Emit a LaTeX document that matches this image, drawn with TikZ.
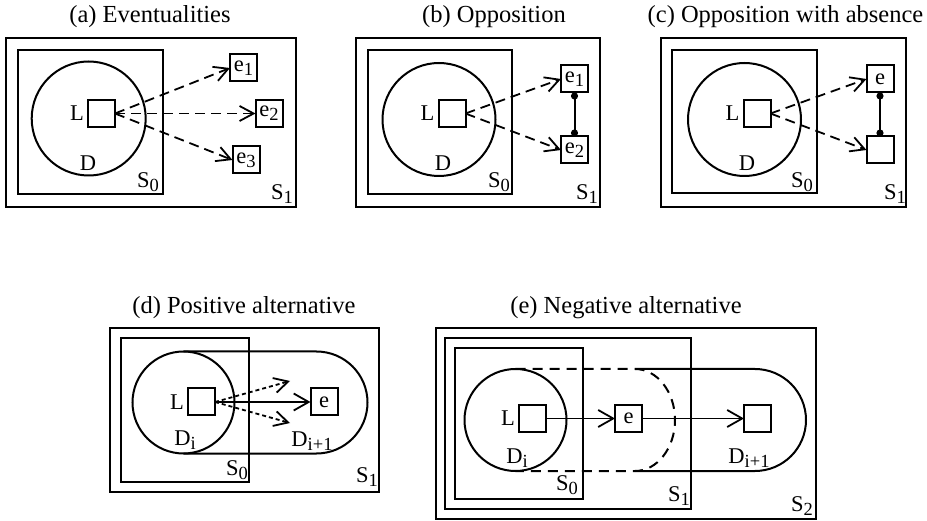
\documentclass[tikz,border=0pt]{standalone}
\usepackage{fontspec}
\setmainfont{Liberation Serif}
\usetikzlibrary{arrows.meta,positioning}
\newcommand\ttlfont{\fontsize{24.5}{28}\selectfont}
\newcommand\lblfont{\fontsize{22.5}{26}\selectfont}
\newcommand\subtxt[1]{\raisebox{-0.35ex}{\fontsize{18.5}{20}\selectfont #1}}

\begin{document}
\begin{tikzpicture}[
  x=1pt, y=-1pt,
  ttl/.style={font=\ttlfont, inner sep=0pt},
  lbl/.style={font=\lblfont, inner sep=0pt},
  frame/.style={draw, line width=2pt, inner sep=0pt, outer sep=0pt},
  dom/.style={draw, circle, line width=2pt, inner sep=0pt, outer sep=0pt},
  domline/.style={line width=2pt},
  domdash/.style={line width=2pt, dash pattern=on 10pt off 7pt},
  item/.style={draw, line width=2pt, minimum size=27pt, inner sep=0pt,
               outer sep=0pt, font=\lblfont},
  darr/.style={-{Straight Barb[length=14pt,width=15pt]}, line width=1.8pt,
               dash pattern=on 10pt off 6pt},
  dotarr/.style={-{Straight Barb[length=14pt,width=15pt]}, line width=1.8pt,
                 dash pattern=on 4pt off 3pt},
  sarr/.style={-{Straight Barb[length=15pt,width=17pt]}, line width=1.8pt},
  link/.style={{Circle[length=7pt]}-{Circle[length=7pt]}, line width=2pt},
]
\useasboundingbox (0,0) rectangle (927,521);

% (a) Eventualities
\node[ttl] (a-title) at (150,17) {(a) Eventualities};
\node[frame, minimum width=290pt, minimum height=169pt] (a-s1) at (151,122.5) {};
\node[frame, minimum width=145pt, minimum height=144pt] (a-s0) at (90.5,122) {};
\node[dom, minimum size=114pt] (a-d) at (88.7,118.5) {};
\node[item] (a-l) at (101.5,113.5) {};
\node[lbl, left=4pt of a-l] (a-l-lbl) {L};
\node[lbl] (a-d-lbl) at (88,163) {D};
\node[lbl] (a-s0-lbl) at (148,182) {S\subtxt{0}};
\node[lbl] (a-s1-lbl) at (282,194) {S\subtxt{1}};
\node[item] (a-e1) at (243.5,68) {e\subtxt{1}};
\node[item] (a-e2) at (269,113.5) {e\subtxt{2}};
\node[item] (a-e3) at (246,160) {e\subtxt{3}};
\draw[darr] (a-l.east) -- (a-e1.west);
\draw[darr] (a-l.east) -- (a-e2.west);
\draw[darr] (a-l.east) -- (a-e3.west);

% (b) Opposition
\node[ttl] (b-title) at (494,17) {(b) Opposition};
\node[frame, minimum width=244pt, minimum height=169pt] (b-s1) at (478,122.5) {};
\node[frame, minimum width=144pt, minimum height=144pt] (b-s0) at (440,122) {};
\node[dom, minimum size=113pt] (b-d) at (439,119.5) {};
\node[item] (b-l) at (452,113.5) {};
\node[lbl, left=4pt of b-l] (b-l-lbl) {L};
\node[lbl] (b-d-lbl) at (443,163) {D};
\node[lbl] (b-s0-lbl) at (499,182) {S\subtxt{0}};
\node[lbl] (b-s1-lbl) at (587,194) {S\subtxt{1}};
\node[item] (b-e1) at (574.5,79) {e\subtxt{1}};
\node[item] (b-e2) at (574.5,150) {e\subtxt{2}};
\draw[darr] (b-l.east) -- (b-e1.west);
\draw[darr] (b-l.east) -- (b-e2.west);
\draw[link] (b-e1) -- (b-e2);

% (c) Opposition with absence
\node[ttl] (c-title) at (785.5,17) {(c) Opposition with absence};
\node[frame, minimum width=245pt, minimum height=169pt] (c-s1) at (783.5,122.5) {};
\node[frame, minimum width=145pt, minimum height=143pt] (c-s0) at (744.5,121.5) {};
\node[dom, minimum size=113pt] (c-d) at (744.5,119.5) {};
\node[item] (c-l) at (757,113.5) {};
\node[lbl, left=4pt of c-l] (c-l-lbl) {L};
\node[lbl] (c-d-lbl) at (747,163) {D};
\node[lbl] (c-s0-lbl) at (802,182) {S\subtxt{0}};
\node[lbl] (c-s1-lbl) at (895,194) {S\subtxt{1}};
\node[item] (c-e) at (880,79) {e};
\node[item] (c-x) at (880,150) {};
\draw[darr] (c-l.east) -- (c-e.west);
\draw[darr] (c-l.east) -- (c-x.west);
\draw[link] (c-e) -- (c-x);

% (d) Positive alternative
\node[ttl] (d-title) at (244,308) {(d) Positive alternative};
\node[frame, minimum width=269pt, minimum height=164pt] (d-s1) at (244.5,410) {};
\node[frame, minimum width=128pt, minimum height=144pt] (d-s0) at (185,410) {};
\node[dom, minimum size=102pt] (d-d) at (183.5,402.5) {};
\draw[domline] (d-d.north) -- ++(133,0)
  arc[start angle=-90, end angle=90, radius=51] -- (d-d.south);
\node[item] (d-l) at (201.5,402) {};
\node[lbl, left=4pt of d-l] (d-l-lbl) {L};
\node[item] (d-e) at (324,402) {e};
\node[lbl] (d-d-lbl) at (185,440) {D\subtxt{i}};
\node[lbl] (d-dn-lbl) at (312,441) {D\subtxt{i+1}};
\node[lbl] (d-s0-lbl) at (237,470) {S\subtxt{0}};
\node[lbl] (d-s1-lbl) at (367,477) {S\subtxt{1}};
\coordinate (d-up) at (290,381);
\coordinate (d-dn) at (290,423);
\draw[dotarr] (d-l.east) -- (d-up);
\draw[dotarr] (d-l.east) -- (d-dn);
\draw[sarr] (d-l) -- (d-e);

% (e) Negative alternative
\node[ttl] (e-title) at (626,308) {(e) Negative alternative};
\node[frame, minimum width=380pt, minimum height=191pt] (e-s2) at (626,423.5) {};
\node[frame, minimum width=246pt, minimum height=171pt] (e-s1) at (568,423.5) {};
\node[frame, minimum width=128pt, minimum height=151pt] (e-s0) at (519,423.5) {};
\node[dom, minimum size=102pt] (e-d) at (515.5,420) {};
\coordinate (e-top) at (635,369);
\coordinate (e-bot) at (635,471);
\draw[domdash] (e-d.north) -- (e-top)
  arc[start angle=-90, end angle=90, x radius=40, y radius=51] -- (e-d.south);
\draw[domline] (e-top) -- ++(120,0)
  arc[start angle=-90, end angle=90, radius=51] -- (e-bot);
\node[item] (e-l) at (532.5,418.5) {};
\node[lbl, left=4pt of e-l] (e-l-lbl) {L};
\node[item] (e-e) at (628.5,418.5) {e};
\node[item] (e-x) at (757.5,418.5) {};
\node[lbl] (e-d-lbl) at (517,458) {D\subtxt{i}};
\node[lbl] (e-dn-lbl) at (749,458) {D\subtxt{i+1}};
\node[lbl] (e-s0-lbl) at (567,485) {S\subtxt{0}};
\node[lbl] (e-s1-lbl) at (679,496) {S\subtxt{1}};
\node[lbl] (e-s2-lbl) at (802,506) {S\subtxt{2}};
\draw[sarr] (e-l) -- (e-e);
\draw[sarr] (e-e) -- (e-x);
\end{tikzpicture}
\end{document}
